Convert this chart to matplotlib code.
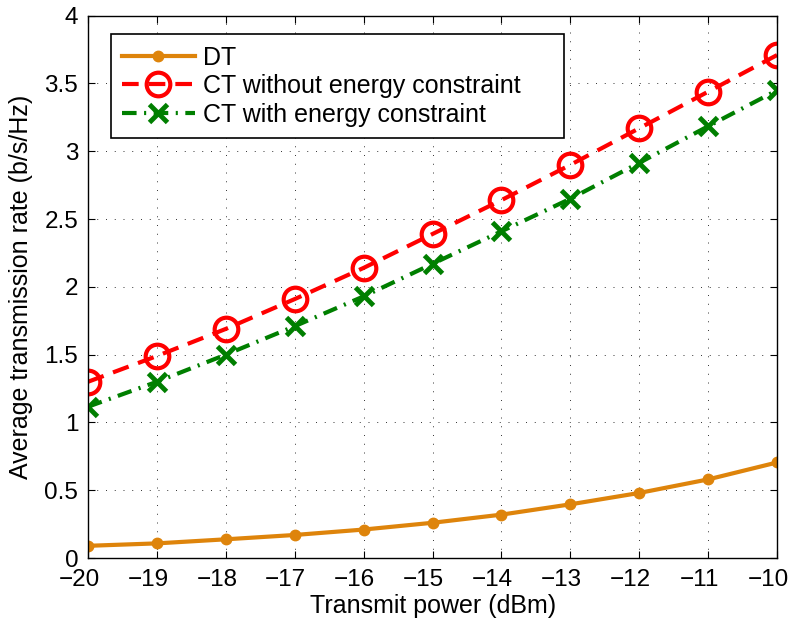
import matplotlib
matplotlib.use("Agg")
import matplotlib.pyplot as plt
from matplotlib.transforms import ScaledTranslation

power = [-20, -19, -18, -17, -16, -15, -14, -13, -12, -11, -10]
dt = [0.09, 0.108, 0.138, 0.17, 0.21, 0.26, 0.32, 0.396, 0.48, 0.58, 0.705]
ct_no = [1.30, 1.49, 1.69, 1.91, 2.14, 2.39, 2.64, 2.90, 3.17, 3.44, 3.71]
ct_with = [1.116, 1.30, 1.50, 1.71, 1.93, 2.17, 2.41, 2.65, 2.915, 3.185, 3.45]
labels = ["DT", "CT without energy constraint", "CT with energy constraint"]
yticks = [0, 0.5, 1, 1.5, 2, 2.5, 3, 3.5, 4]
yticklabels = ['0', '0.5', '1', '1.5', '2', '2.5', '3', '3.5', '4']

plt.rcParams['font.family'] = ['Liberation Sans', 'DejaVu Sans']
plt.rcParams['axes.unicode_minus'] = True

fig = plt.figure(figsize=(7.93, 6.23), dpi=100)
ax = fig.add_axes([0.111, 0.1043, 0.869, 0.8705])

ax.plot(power, dt, '-o', color='#DE840B', lw=3, ms=7.5, label=labels[0])
ax.plot(power, ct_no, '--o', color='red', lw=3, ms=17, mfc='none', mew=3,
        dashes=(4, 2.4), label=labels[1])
ax.plot(power, ct_with, '-.x', color='#007F00', lw=3, ms=13, mew=3.5,
        dashes=(3.5, 1.8, 0.5, 1.8), label=labels[2])

ax.set_xlim(-20, -10)
ax.set_ylim(0, 4)
ax.set_xticks(power)
ax.set_yticks(yticks)
ax.set_yticklabels(yticklabels)
ax.tick_params(direction='in', top=True, right=True, labelsize=17.5, length=5, width=0.8)
ax.tick_params(axis='x', pad=8)
ax.tick_params(axis='y', pad=7)
for lab in ax.get_xticklabels():
    lab.set_transform(lab.get_transform() + ScaledTranslation(-9 / 100, 0, fig.dpi_scale_trans))
ax.grid(True, linestyle=(0, (1, 8)), color='#333333', linewidth=0.7)
for s in ax.spines.values():
    s.set_linewidth(1.0)

ax.set_xlabel('Transmit power (dBm)', fontsize=18, labelpad=2)
ax.set_ylabel('Average transmission rate (b/s/Hz)', fontsize=18, labelpad=8)

leg_w = (564 - 110.7) / 689
leg_h = (140 - 34.3) / 542.3
leg = ax.legend(loc='upper left', bbox_to_anchor=(0.033, 0.9657 - leg_h, leg_w, leg_h),
                mode='expand', borderaxespad=0,
                fontsize=18, frameon=True, fancybox=False, edgecolor='black', framealpha=1,
                handlelength=2.9, borderpad=0.45, labelspacing=0.18, handletextpad=0.35)
leg.get_frame().set_linewidth(1.2)

fig.savefig('out.png', dpi=100)
